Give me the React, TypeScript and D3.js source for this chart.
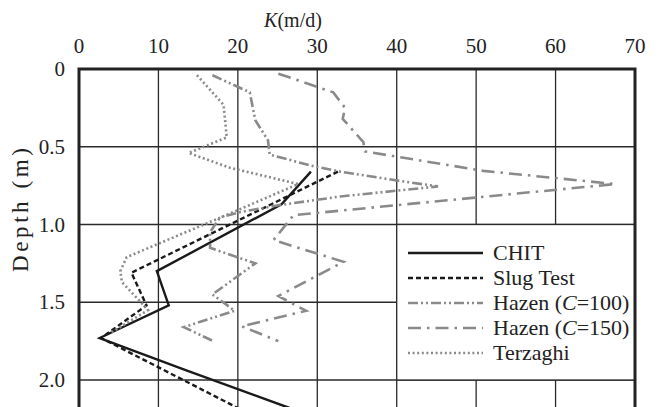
import React from 'react';
import * as d3 from 'd3';

const xTicks = [0, 10, 20, 30, 40, 50, 60, 70];
const yTicks = [0, 0.5, 1.0, 1.5, 2.0];
const yTickLabels = ['0', '0.5', '1.0', '1.5', '2.0'];

const chitK = [29.2, 25.5, 9.8, 11.3, 2.6, 13.6, 26.5];
const chitDepth = [0.66, 0.87, 1.30, 1.52, 1.73, 1.94, 2.18];

const slugK = [32.6, 6.6, 8.5, 2.8, 20.0];
const slugDepth = [0.66, 1.31, 1.52, 1.73, 2.18];

const hazen100K = [16.8, 21.5, 22.2, 23.8, 24.0, 29.1, 32.9, 40.4, 45.2, 32.9, 25.3, 20.3, 17.75, 16.5, 16.5, 22.2, 16.8, 19.6, 13.2, 16.9];
const hazen100Depth = [0.04, 0.15, 0.33, 0.46, 0.55, 0.62, 0.66, 0.72, 0.755, 0.82, 0.875, 0.92, 0.955, 1.05, 1.15, 1.25, 1.45, 1.555, 1.66, 1.75];

const hazen150K = [25.1, 32.0, 33.5, 33.2, 35.8, 36.0, 50.9, 67.5, 27.0, 24.5, 33.3, 25.1, 28.6, 20.5, 25.1];
const hazen150Depth = [0.03, 0.15, 0.25, 0.32, 0.47, 0.53, 0.655, 0.74, 0.94, 1.10, 1.24, 1.46, 1.555, 1.655, 1.75];

const terzaghiK = [14.85, 18.2, 18.6, 13.8, 19.0, 27.6, 17.6, 6.0, 5.2, 5.4, 8.7, 3.9];
const terzaghiDepth = [0.04, 0.23, 0.44, 0.54, 0.635, 0.74, 0.96, 1.21, 1.30, 1.37, 1.55, 1.70];

const legendLabels = ['CHIT', 'Slug Test', 'Hazen (C=100)', 'Hazen (C=150)', 'Terzaghi'];

const W = 662, H = 407;
const FONT = '"Liberation Serif", "Times New Roman", serif';
const GRAY = '#8a8a8a';

const x = d3.scaleLinear().domain([0, 70]).range([79, 635]);
const y = d3.scaleLinear().domain([0, 2]).range([69, 380]);

type S = { k: number[]; d: number[]; color: string; dash: string; width: number };
const series: S[] = [
  { k: chitK, d: chitDepth, color: '#1a1a1a', dash: '', width: 2.4 },
  { k: slugK, d: slugDepth, color: '#1a1a1a', dash: '5,3', width: 2.4 },
  { k: hazen100K, d: hazen100Depth, color: GRAY, dash: '10,3,2,3,2,3', width: 2.6 },
  { k: hazen150K, d: hazen150Depth, color: GRAY, dash: '13,6,2.5,6', width: 2.6 },
  { k: terzaghiK, d: terzaghiDepth, color: GRAY, dash: '2,2.6', width: 2.6 },
];

const line = d3.line<[number, number]>().x((p) => x(p[0])).y((p) => y(p[1]));

function legendText(label: string) {
  const m = label.match(/^(.*\()C(=.*)$/);
  if (!m) return label;
  return (
    <>
      {m[1]}
      <tspan fontStyle="italic">C</tspan>
      {m[2]}
    </>
  );
}

export default function App() {
  const left = x(0), right = x(70), top = y(0);
  const lx0 = x(40), ly0 = y(1.0), lx1 = x(70), ly1 = y(2.0);
  return (
    <svg width={W} height={H} style={{ position: 'absolute', left: 0, top: 0, background: '#fff' }}
      fontFamily={FONT}>
      <defs>
        <clipPath id="plot">
          <rect x={left} y={top} width={right - left} height={H - top + 10} />
        </clipPath>
      </defs>
      <rect x={0} y={0} width={W} height={H} fill="#fff" />
      {xTicks.slice(1, -1).map((t) => (
        <line key={'gx' + t} x1={x(t)} x2={x(t)} y1={top} y2={H} stroke="#2a2a2a" strokeWidth={1.3} />
      ))}
      {yTicks.slice(1).map((t) => (
        <line key={'gy' + t} x1={left} x2={right} y1={y(t)} y2={y(t)} stroke="#2a2a2a" strokeWidth={1.3} />
      ))}
      <g clipPath="url(#plot)">
        {series.map((s, i) => (
          <path key={i} d={line(s.k.map((k, j) => [k, s.d[j]] as [number, number])) || ''}
            fill="none" stroke={s.color} strokeWidth={s.width} strokeDasharray={s.dash || undefined}
            strokeLinejoin="miter" />
        ))}
      </g>
      <rect x={lx0} y={ly0} width={lx1 - lx0} height={ly1 - ly0} fill="#fff" stroke="#2a2a2a" strokeWidth={1.3} />
      {series.map((s, i) => {
        const yy = 253 + i * 25;
        return (
          <g key={'lg' + i}>
            <line x1={408} x2={483} y1={yy} y2={yy} stroke={s.color} strokeWidth={s.width}
              strokeDasharray={s.dash || undefined} />
            <text x={493} y={yy + 7} fontSize={22} fill="#222">{legendText(legendLabels[i])}</text>
          </g>
        );
      })}
      <path d={`M${left},${H + 5}V${top}H${right}V${H + 5}`} fill="none" stroke="#222" strokeWidth={3} />
      {xTicks.map((t) => (
        <text key={'xt' + t} x={x(t)} y={53} textAnchor="middle" fontSize={21} fill="#222">{t}</text>
      ))}
      <text x={293} y={27} textAnchor="middle" fontSize={20} fill="#222">
        <tspan fontStyle="italic">K</tspan>(m/d)
      </text>
      {yTicks.map((t, i) => (
        <text key={'yt' + t} x={65} y={y(t) + 7} textAnchor="end" fontSize={21} fill="#222">{yTickLabels[i]}</text>
      ))}
      <text transform={`translate(28,210) rotate(-90)`} textAnchor="middle" fontSize={23} fill="#222"
        textLength={124} lengthAdjust="spacing">Depth (m)</text>
    </svg>
  );
}
